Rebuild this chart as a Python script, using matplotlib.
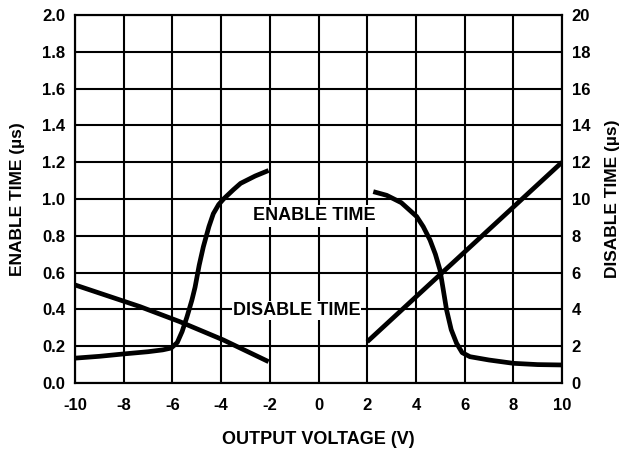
import matplotlib
matplotlib.use("Agg")
import matplotlib.pyplot as plt
import numpy as np

plt.rcParams['font.family'] = ['Liberation Sans', 'DejaVu Sans']
plt.rcParams['font.weight'] = 'bold'
plt.rcParams['axes.unicode_minus'] = False

# enable time (us), left axis
en_neg_x = [-10, -9, -8, -7, -6.4, -6.05, -5.8, -5.6, -5.4, -5.2, -5.07, -4.9, -4.73, -4.5, -4.32, -4.1, -3.9, -3.5, -3.2, -2.6, -2.05]
en_neg_y = [0.135, 0.145, 0.158, 0.17, 0.18, 0.19, 0.22, 0.28, 0.36, 0.45, 0.52, 0.64, 0.74, 0.85, 0.92, 0.97, 1.0, 1.05, 1.085, 1.125, 1.155]
en_pos_x = [2.25, 2.8, 3.4, 4.03, 4.3, 4.58, 4.8, 4.99, 5.12, 5.26, 5.45, 5.67, 5.9, 6.22, 7.0, 8.0, 9.0, 9.99]
en_pos_y = [1.04, 1.02, 0.98, 0.905, 0.85, 0.777, 0.70, 0.614, 0.51, 0.397, 0.29, 0.216, 0.165, 0.143, 0.125, 0.107, 0.1, 0.098]

# disable time (us), right axis
dis_neg_x = [-10, -7.33, -5.69, -3.91, -2.05]
dis_neg_y = [5.33, 4.15, 3.33, 2.34, 1.16]
dis_pos_x = [2.0, 10.0]
dis_pos_y = [2.24, 12.0]

fig = plt.figure(figsize=(6.2, 4.49), dpi=100)
ax = fig.add_axes([75/620, 1 - 383/449, (562-75)/620, (383-15)/449])
ax2 = ax.twinx()

lw = 3.4
ax.plot(en_neg_x, en_neg_y, color='black', lw=lw, solid_capstyle='butt', zorder=3)
ax.plot(en_pos_x, en_pos_y, color='black', lw=lw, solid_capstyle='butt', zorder=3)
ax2.plot(dis_neg_x, dis_neg_y, color='black', lw=lw, solid_capstyle='butt', zorder=3)
ax2.plot(dis_pos_x, dis_pos_y, color='black', lw=lw, solid_capstyle='butt', zorder=3)

ax.set_xlim(-10, 10)
ax.set_ylim(0, 2.0)
ax2.set_ylim(0, 20)
ax.set_xticks(np.arange(-10, 11, 2))
ax.set_yticks(np.arange(0, 2.01, 0.2))
ax2.set_yticks(np.arange(0, 21, 2))
ax.set_yticklabels([f'{v:.1f}' for v in np.arange(0, 2.01, 0.2)])
ax.grid(True, color='black', lw=1.5)
ax.tick_params(axis='y', length=0, labelsize=12, pad=7)
ax.tick_params(axis='x', length=0, labelsize=12, pad=11)
ax2.tick_params(length=0, labelsize=12, pad=7)
for a in (ax, ax2):
    for s in a.spines.values():
        s.set_linewidth(1.5)

ax.set_xlabel('OUTPUT VOLTAGE (V)', fontsize=13, fontweight='bold', labelpad=13)
ax.set_ylabel('ENABLE TIME (\u00b5s)', fontsize=12.5, fontweight='bold', labelpad=12)
ax2.set_ylabel('DISABLE TIME (\u00b5s)', fontsize=12.5, fontweight='bold', labelpad=11)

ax2.text(-0.18, 9.08, 'ENABLE TIME', ha='center', va='center', fontsize=13,
         fontweight='bold', bbox=dict(facecolor='white', edgecolor='none', pad=2), zorder=4)
ax2.text(-0.9, 3.93, 'DISABLE TIME', ha='center', va='center', fontsize=13,
         fontweight='bold', bbox=dict(facecolor='white', edgecolor='none', pad=0.5), zorder=4)

fig.savefig('out.png', dpi=100)
